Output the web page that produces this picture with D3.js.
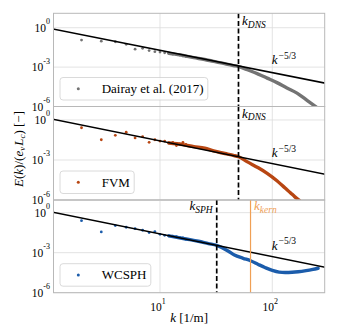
<!DOCTYPE html>
<html>
<head>
<meta charset="utf-8">
<script src="https://cdn.jsdelivr.net/npm/d3@7"></script>
<style>
  body { margin: 0; background: #fff; }
</style>
</head>
<body>
<svg id="chart" width="339" height="327" font-family="'Liberation Serif', 'DejaVu Serif', serif"></svg>
<script>
// low wavenumbers, drawn as separate markers
const sparseK = [2, 3, 4, 5, 6, 7, 8, 9, 10, 11, 12, 13, 14, 15, 16, 17];
const dairaySparse = [1.15e-1, 9.5e-2, 8.5e-2, 5.4e-2, 2.3e-2, 2.7e-2, 1.8e-2, 1.5e-2, 1.4e-2, 1.23e-2, 1.12e-2, 9.8e-3, 9.3e-3, 8.3e-3, 6.9e-3, 6.3e-3];
const fvmSparse = [2.6e-1, 3.3e-2, 7.1e-2, 1.2e-1, 4.5e-2, 5.6e-2, 2.1e-2, 3.3e-2, 2.6e-2, 2.6e-2, 1.9e-2, 2.1e-2, 1.2e-2, 1.6e-2, 2.1e-2, 1.5e-2];
const sphSparse = [2.5e-1, 3.6e-2, 1.07e-1, 8.1e-2, 6.3e-2, 4.8e-2, 3.2e-2, 3.8e-2, 2.4e-2, 2.0e-2, 1.8e-2, 1.7e-2, 1.6e-2, 1.35e-2, 1.26e-2, 1.02e-2];

// high wavenumbers, where the markers merge into a thick band
const dairayDenseK = [12, 15, 20, 25, 30, 35, 40, 45, 50, 60, 75, 90, 110, 135, 166, 200, 245, 256];
const dairayDenseE = [1.12e-2, 8.5e-3, 5.2e-3, 3.8e-3, 2.7e-3, 2.1e-3, 1.6e-3, 1.3e-3, 1.1e-3, 6.3e-4, 2.95e-4, 1.45e-4, 6.6e-5, 2.6e-5, 1.05e-5, 3.3e-6, 9.3e-7, 7e-7];
const fvmDenseK = [12, 16, 20, 25, 30, 35, 40, 45, 50, 60, 75, 90, 110, 130, 145, 158, 175];
const fvmDenseE = [1.86e-2, 1.41e-2, 1.0e-2, 7.6e-3, 4.8e-3, 3.5e-3, 2.75e-3, 2.2e-3, 1.74e-3, 7.2e-4, 2.6e-4, 1.0e-4, 2.8e-5, 7.9e-6, 3.5e-6, 1.8e-6, 8.9e-7];
const sphDenseK = [12, 17, 22, 27, 32, 40, 46, 55, 64, 75, 86, 100, 115, 130, 150, 170, 200, 230, 256];
const sphDenseE = [1.82e-2, 1.07e-2, 7.2e-3, 4.8e-3, 3.5e-3, 1.41e-3, 6.6e-4, 3.8e-4, 2.5e-4, 1.32e-4, 7.8e-5, 4.7e-5, 3.5e-5, 3.3e-5, 3.4e-5, 3.7e-5, 4.5e-5, 5.6e-5, 6.8e-5];

// k^-5/3 reference line, end points per panel
const refK = [1.1, 300];
const refE1 = [0.81, 5.9e-5];
const refE2 = [1.15, 8.3e-5];
const refE3 = [1.1, 7.9e-5];

const kDNS = 50;
const kSPH = 32;
const kKern = 64;

const xTicks = [10, 100];
const xTickExp = ["1", "2"];
const yTicks = [1, 1e-3, 1e-6];
const yTickExp = ["0", "-3", "-6"];
const legendLabels = ["Dairay et al. (2017)", "FVM", "WCSPH"];

const svg = d3.select("#chart");
const x = d3.scaleLog().domain([1.126, 292.9]).range([53.5, 324.7]);
const x0 = x.range()[0], x1 = x.range()[1];

const panels = [
  { top: 13.3, bottom: 106.5, yMax: 10 ** 1.097, sparse: dairaySparse, dk: dairayDenseK, de: dairayDenseE,
    ref: refE1, color: "#737373", label: legendLabels[0], vline: kDNS, vname: "DNS" },
  { top: 106.5, bottom: 200, yMax: 10 ** 1.01, sparse: fvmSparse, dk: fvmDenseK, de: fvmDenseE,
    ref: refE2, color: "#b84612", label: legendLabels[1], vline: kDNS, vname: "DNS" },
  { top: 200, bottom: 292.7, yMax: 10 ** 0.95, sparse: sphSparse, dk: sphDenseK, de: sphDenseE,
    ref: refE3, color: "#1b5cab", label: legendLabels[2], vline: kSPH, vname: "SPH" }
];

const defs = svg.append("defs");

panels.forEach((p, i) => {
  const y = d3.scaleLog().domain([1e-6, p.yMax]).range([p.bottom, p.top]);
  const clipId = "clip" + i;
  defs.append("clipPath").attr("id", clipId).append("rect")
    .attr("x", x0).attr("y", p.top).attr("width", x1 - x0).attr("height", p.bottom - p.top);

  // grid
  const grid = svg.append("g");
  grid.selectAll("line.gx").data(xTicks).join("line").attr("class", "gx")
    .attr("x1", d => x(d)).attr("x2", d => x(d))
    .attr("y1", p.top).attr("y2", p.bottom)
    .attr("stroke", "#dcdcdc").attr("stroke-width", 0.8);
  grid.selectAll("line.gy").data(yTicks).join("line").attr("class", "gy")
    .attr("x1", x0).attr("x2", x1)
    .attr("y1", d => y(d)).attr("y2", d => y(d))
    .attr("stroke", "#dcdcdc").attr("stroke-width", 0.8);

  const plot = svg.append("g").attr("clip-path", `url(#${clipId})`);

  // dense part as a thick band
  const band = d3.line().x(d => x(d[0])).y(d => y(d[1])).curve(d3.curveMonotoneX);
  plot.append("path")
    .attr("d", band(d3.zip(p.dk, p.de)))
    .attr("fill", "none")
    .attr("stroke", p.color)
    .attr("stroke-width", 3.4)
    .attr("stroke-linecap", "round");

  plot.selectAll("circle.pt").data(d3.zip(sparseK, p.sparse)).join("circle").attr("class", "pt")
    .attr("cx", d => x(d[0])).attr("cy", d => y(d[1]))
    .attr("r", 1.4).attr("fill", p.color);

  // reference slope
  plot.append("path")
    .attr("d", d3.line().x(d => x(d[0])).y(d => y(d[1]))(d3.zip(refK, p.ref)))
    .attr("stroke", "#000").attr("stroke-width", 1.6).attr("fill", "none");

  // vertical marker lines
  plot.append("line")
    .attr("x1", x(p.vline)).attr("x2", x(p.vline))
    .attr("y1", p.top).attr("y2", p.bottom)
    .attr("stroke", "#000").attr("stroke-width", 1.7).attr("stroke-dasharray", "5,2.6");

  if (i === 2) {
    plot.append("line")
      .attr("x1", x(kKern)).attr("x2", x(kKern))
      .attr("y1", p.top).attr("y2", p.bottom)
      .attr("stroke", "#f0a055").attr("stroke-width", 1.2);
  }

  // frame
  svg.append("rect")
    .attr("x", x0).attr("y", p.top).attr("width", x1 - x0).attr("height", p.bottom - p.top)
    .attr("fill", "none").attr("stroke", "#b8b8b8").attr("stroke-width", 1);

  // y tick labels
  yTicks.forEach((t, j) => {
    const tx = svg.append("text")
      .attr("x", 50).attr("y", y(t) + 4)
      .attr("text-anchor", "end").attr("font-size", 11.5);
    tx.append("tspan").text("10");
    tx.append("tspan").attr("dy", -7.5).attr("font-size", 8).text(yTickExp[j]);
  });

  // marker label (k_DNS / k_SPH)
  const lab = svg.append("text")
    .attr("y", y(1.5))
    .attr("font-size", 13).attr("font-style", "italic");
  lab.append("tspan").text("k");
  lab.append("tspan").attr("dy", 2.5).attr("font-size", 9.5).text(p.vname);
  if (i === 2) {
    lab.attr("x", x(p.vline) - 4).attr("text-anchor", "end");
  } else {
    lab.attr("x", x(p.vline) + 3.5);
  }

  if (i === 2) {
    const kl = svg.append("text")
      .attr("x", x(kKern) + 3.5).attr("y", y(1.5))
      .attr("font-size", 13).attr("font-style", "italic").attr("fill", "#f0a055");
    kl.append("tspan").text("k");
    kl.append("tspan").attr("dy", 2.5).attr("font-size", 9.5).text("kern");
  }

  // k^-5/3 label
  const sl = svg.append("text")
    .attr("x", x(99)).attr("y", y(1.6e-3))
    .attr("font-size", 13);
  sl.append("tspan").attr("font-style", "italic").text("k");
  sl.append("tspan").attr("dy", -5.5).attr("dx", 1).attr("font-size", 9.5).text("\u22125/3");

  // legend
  const lg = svg.append("g");
  const boxH = 22.5;
  const boxY = p.bottom - 6.5 - boxH;
  const box = lg.append("rect")
    .attr("x", 60).attr("y", boxY).attr("height", boxH)
    .attr("rx", 3).attr("ry", 3)
    .attr("fill", "#fff").attr("fill-opacity", 0.8)
    .attr("stroke", "#d0d0d0").attr("stroke-width", 0.8);
  lg.append("circle")
    .attr("cx", 78.3).attr("cy", boxY + boxH / 2)
    .attr("r", 1.5).attr("fill", p.color);
  const lt = lg.append("text")
    .attr("x", 101.7).attr("y", boxY + boxH / 2 + 4.4)
    .attr("font-size", 13).text(p.label);
  const w = lt.node().getComputedTextLength();
  box.attr("width", 101.7 + w + 4.3 - 60);
});

// x tick labels on bottom panel
xTicks.forEach((t, j) => {
  const tx = svg.append("text")
    .attr("x", x(t) - 2).attr("y", 311)
    .attr("text-anchor", "middle").attr("font-size", 11.5);
  tx.append("tspan").text("10");
  tx.append("tspan").attr("dy", -7.5).attr("font-size", 8).text(xTickExp[j]);
});

// axis labels
const xl = svg.append("text")
  .attr("x", (x0 + x1) / 2).attr("y", 322)
  .attr("text-anchor", "middle").attr("font-size", 13);
xl.append("tspan").attr("font-style", "italic").text("k");
xl.append("tspan").text(" [1/m]");

const yl = svg.append("text")
  .attr("transform", "translate(22.5,149) rotate(-90)")
  .attr("text-anchor", "middle").attr("font-size", 13);
yl.append("tspan").attr("font-style", "italic").text("E");
yl.append("tspan").text("(");
yl.append("tspan").attr("font-style", "italic").text("k");
yl.append("tspan").text(")/(");
yl.append("tspan").attr("font-style", "italic").text("e");
yl.append("tspan").attr("dy", 2.5).attr("font-style", "italic").attr("font-size", 9).text("v");
yl.append("tspan").attr("dy", -2.5).attr("dx", 1).attr("font-style", "italic").text("L");
yl.append("tspan").attr("dy", 2.5).attr("font-style", "italic").attr("font-size", 9).text("c");
yl.append("tspan").attr("dy", -2.5).text(") [\u2212]");
</script>
</body>
</html>
